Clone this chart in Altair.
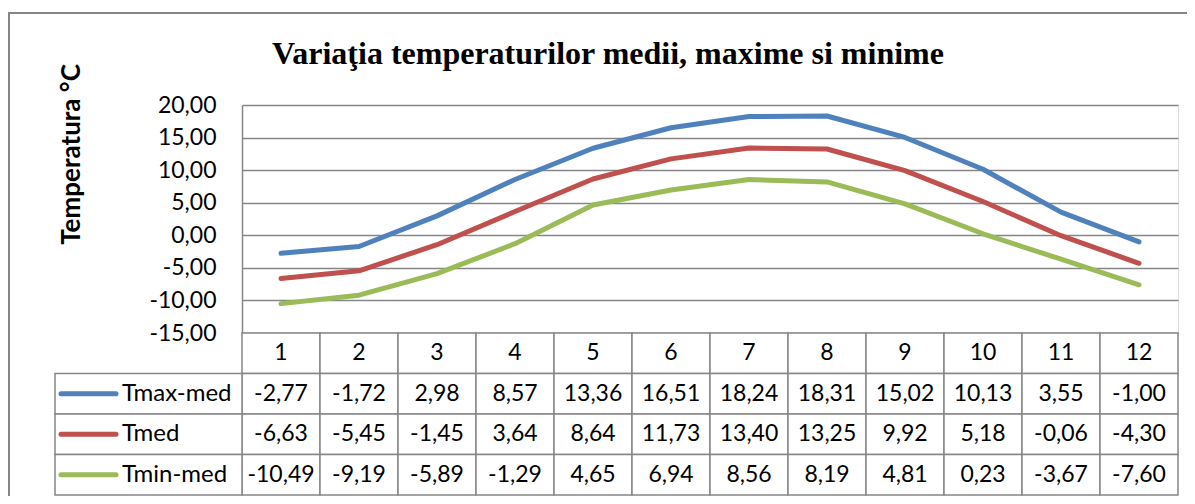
import altair as alt
import pandas as pd

# ---------------- data ----------------
months = list(range(1, 13))
series_names = ["Tmax-med", "Tmed", "Tmin-med"]
tmax = [-2.77, -1.72, 2.98, 8.57, 13.36, 16.51, 18.24, 18.31, 15.02, 10.13, 3.55, -1.00]
tmed = [-6.63, -5.45, -1.45, 3.64, 8.64, 11.73, 13.40, 13.25, 9.92, 5.18, -0.06, -4.30]
tmin = [-10.49, -9.19, -5.89, -1.29, 4.65, 6.94, 8.56, 8.19, 4.81, 0.23, -3.67, -7.60]
series_colors = ["#4F81BD", "#C0504D", "#9BBB59"]
y_ticks = [-15, -10, -5, 0, 5, 10, 15, 20]
title_text = "Variaţia temperaturilor medii, maxime si minime"
y_title = "Temperatura °C"

# ---------------- layout constants ----------------
PLOT_W, PLOT_H = 936, 228
ROW_PX = 40.5
TABLE_SPAN = PLOT_H / ROW_PX          # table-row units covered by the plot height
COL_PX = PLOT_W / 12
LEG_LEFT = 0.5 - 187 / COL_PX         # legend column left edge (month units)
SAMPLE_A = 0.5 - 181 / COL_PX
SAMPLE_B = 0.5 - 126 / COL_PX
TEXT_X = 0.5 - 120 / COL_PX
GRID = "#868686"
FONT = "Lato"
FS = 23


def fmt(v):
    return f"{v:.2f}".replace(".", ",")


rows = []
for si, (name, vals) in enumerate(zip(series_names, [tmax, tmed, tmin])):
    for m, v in zip(months, vals):
        rows.append({"month": m, "series": name, "value": v, "label": fmt(v), "row": si + 1})
df = pd.DataFrame(rows)
df["x0"] = df["month"] - 0.5
df["x1"] = df["month"] + 0.5
df["top"] = -df["row"]
df["bottom"] = -(df["row"] + 1)
df["mid"] = -(df["row"] + 0.5)

header = pd.DataFrame({"month": months, "label": [str(m) for m in months]})
header["x0"] = header["month"] - 0.5
header["x1"] = header["month"] + 0.5
header["top"] = 0
header["bottom"] = -1
header["mid"] = -0.5

legend = pd.DataFrame({"series": series_names, "row": [1, 2, 3]})
legend["x0"] = LEG_LEFT
legend["x1"] = 0.5
legend["top"] = -legend["row"]
legend["bottom"] = -(legend["row"] + 1)
legend["mid"] = -(legend["row"] + 0.5)
legend["sa"] = SAMPLE_A
legend["sb"] = SAMPLE_B
legend["tx"] = TEXT_X

xs = alt.Scale(domain=[0.5, 12.5], nice=False, zero=False)
ts = alt.Scale(domain=[0, TABLE_SPAN], nice=False, zero=False)
cs = alt.Scale(domain=series_names, range=series_colors)

lines = alt.Chart(df).mark_line(strokeWidth=5, strokeCap="round", strokeJoin="round").encode(
    x=alt.X("month:Q", scale=xs, axis=None),
    y=alt.Y(
        "value:Q",
        scale=alt.Scale(domain=[-15, 20], nice=False, zero=False),
        axis=alt.Axis(
            values=y_ticks,
            labelExpr="replace(replace(format(datum.value, '.2f'), '.', ','), '\u2212', '-')",
            labelFont=FONT, labelFontSize=FS, labelColor="#000000", labelPadding=26,
            labelOverlap=False, ticks=False,
            domain=True, domainColor=GRID, domainWidth=1.5,
            grid=True, gridColor=GRID, gridWidth=1.5,
            title=y_title, titleFont=FONT, titleFontSize=26, titleFontWeight="bold",
            titleColor="#000000", titleAngle=270, titleX=-171, titleY=49,
            titleAlign="center", titleBaseline="middle",
        ),
    ),
    color=alt.Color("series:N", scale=cs, legend=None),
)

cell_style = dict(fill="white", stroke=GRID, strokeWidth=1.5)

header_cells = alt.Chart(header).mark_rect(**cell_style).encode(
    x=alt.X("x0:Q", scale=xs, axis=None), x2="x1:Q",
    y=alt.Y("top:Q", scale=ts, axis=None), y2="bottom:Q",
)
header_text = alt.Chart(header).mark_text(font=FONT, fontSize=FS, color="black", baseline="middle").encode(
    x=alt.X("month:Q", scale=xs, axis=None),
    y=alt.Y("mid:Q", scale=ts, axis=None),
    text="label:N",
)
value_cells = alt.Chart(df).mark_rect(**cell_style).encode(
    x=alt.X("x0:Q", scale=xs, axis=None), x2="x1:Q",
    y=alt.Y("top:Q", scale=ts, axis=None), y2="bottom:Q",
)
value_text = alt.Chart(df).mark_text(font=FONT, fontSize=FS, color="black", baseline="middle").encode(
    x=alt.X("month:Q", scale=xs, axis=None),
    y=alt.Y("mid:Q", scale=ts, axis=None),
    text="label:N",
)
legend_cells = alt.Chart(legend).mark_rect(**cell_style).encode(
    x=alt.X("x0:Q", scale=xs, axis=None), x2="x1:Q",
    y=alt.Y("top:Q", scale=ts, axis=None), y2="bottom:Q",
)
legend_samples = alt.Chart(legend).mark_rule(strokeWidth=5, strokeCap="round").encode(
    x=alt.X("sa:Q", scale=xs, axis=None), x2="sb:Q",
    y=alt.Y("mid:Q", scale=ts, axis=None),
    color=alt.Color("series:N", scale=cs, legend=None),
)
legend_text = alt.Chart(legend).mark_text(font=FONT, fontSize=24, color="black", align="left", baseline="middle").encode(
    x=alt.X("tx:Q", scale=xs, axis=None),
    y=alt.Y("mid:Q", scale=ts, axis=None),
    text="series:N",
)

one = pd.DataFrame({"k": [0]})
frame_top = alt.Chart(one).mark_rule(color=GRID, strokeWidth=2).encode(
    x=alt.value(-234), x2=alt.value(945), y=alt.value(-92)
)
frame_left = alt.Chart(one).mark_rule(color=GRID, strokeWidth=2).encode(
    x=alt.value(-233), y=alt.value(-92), y2=alt.value(391)
)

chart = alt.layer(
    frame_top, frame_left,
    lines,
    header_cells, header_text,
    value_cells, value_text,
    legend_cells, legend_samples, legend_text,
).resolve_scale(y="independent").properties(
    width=PLOT_W,
    height=PLOT_H,
    padding={"left": 234, "top": 97, "right": 9, "bottom": 163},
    autosize=alt.AutoSizeParams(type="none"),
    title=alt.TitleParams(
        text=title_text, font="Liberation Serif", fontSize=32, fontWeight="bold",
        color="black", anchor="middle", frame="group", dx=-102, dy=84,
        baseline="alphabetic", offset=0,
    ),
).configure_view(stroke=None).configure(background="white")

chart.save("out.html", embed_options={"renderer": "svg", "actions": False})
